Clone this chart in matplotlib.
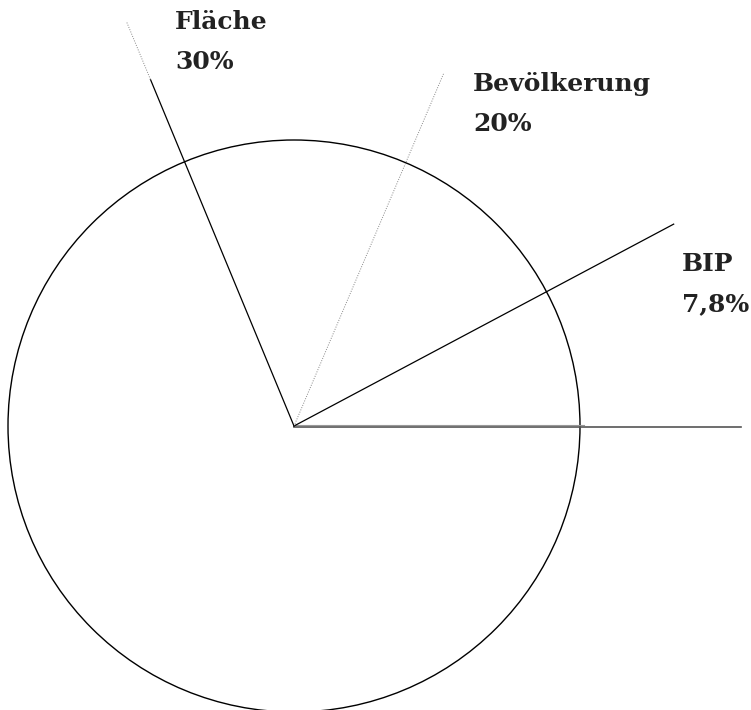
import numpy as np
import matplotlib.pyplot as plt
from matplotlib.patches import Circle

# Beschriftungen und Anteile (Prozent)
namen = ["BIP", "Bevölkerung", "Fläche"]
texte = ["7,8%", "20%", "30%"]
# Lage der Grenzlinien im Bild (Grad, gegen Uhrzeigersinn ab 3 Uhr)
grenzen_grad = [28, 67, 112.5]

# Kreis in Pixelkoordinaten
mitte_x, mitte_y = 294, 426
radius = 286

fig = plt.figure(figsize=(7.51, 7.10), dpi=100)
ax = fig.add_axes([0, 0, 1, 1])
ax.set_xlim(0, 751)
ax.set_ylim(710, 0)
ax.axis("off")

ax.add_patch(Circle((mitte_x, mitte_y), radius, fill=False, color="black", lw=1.0))

# Startlinie bei 0 Grad
ax.plot([mitte_x, mitte_x + 447], [mitte_y + 1, mitte_y + 1], color="#555555", lw=1.2)
ax.plot([mitte_x, mitte_x + 290], [mitte_y - 1, mitte_y - 1], color="#999999", lw=0.8)

laengen = [430, 383, 375]
stile = [dict(color="black", lw=0.9, ls="-"),
         dict(color="#888888", lw=0.7, ls=(0, (1, 1.5))),
         dict(color="black", lw=0.9, ls="-")]
text_pos = [(682, 264), (473, 84), (175, 22)]

for winkel_g, laenge, stil in zip(grenzen_grad, laengen, stile):
    winkel = np.deg2rad(winkel_g)
    x2 = mitte_x + laenge * np.cos(winkel)
    y2 = mitte_y - laenge * np.sin(winkel)
    ax.plot([mitte_x, x2], [mitte_y, y2], **stil)

# blasser Rest der Flächen-Linie
winkel = np.deg2rad(grenzen_grad[2])
ax.plot([mitte_x + 375 * np.cos(winkel), mitte_x + 437 * np.cos(winkel)],
        [mitte_y - 375 * np.sin(winkel), mitte_y - 437 * np.sin(winkel)],
        color="#888888", lw=0.7, ls=(0, (1, 1.5)))

for name, txt, (tx, ty) in zip(namen, texte, text_pos):
    ax.text(tx, ty, name, fontsize=18, fontweight="bold", family="DejaVu Serif",
            va="center", ha="left", color="#222222")
    ax.text(tx, ty + 40, txt, fontsize=18, fontweight="bold", family="DejaVu Serif",
            va="center", ha="left", color="#222222")

plt.savefig("out.png", dpi=100)
plt.close()
